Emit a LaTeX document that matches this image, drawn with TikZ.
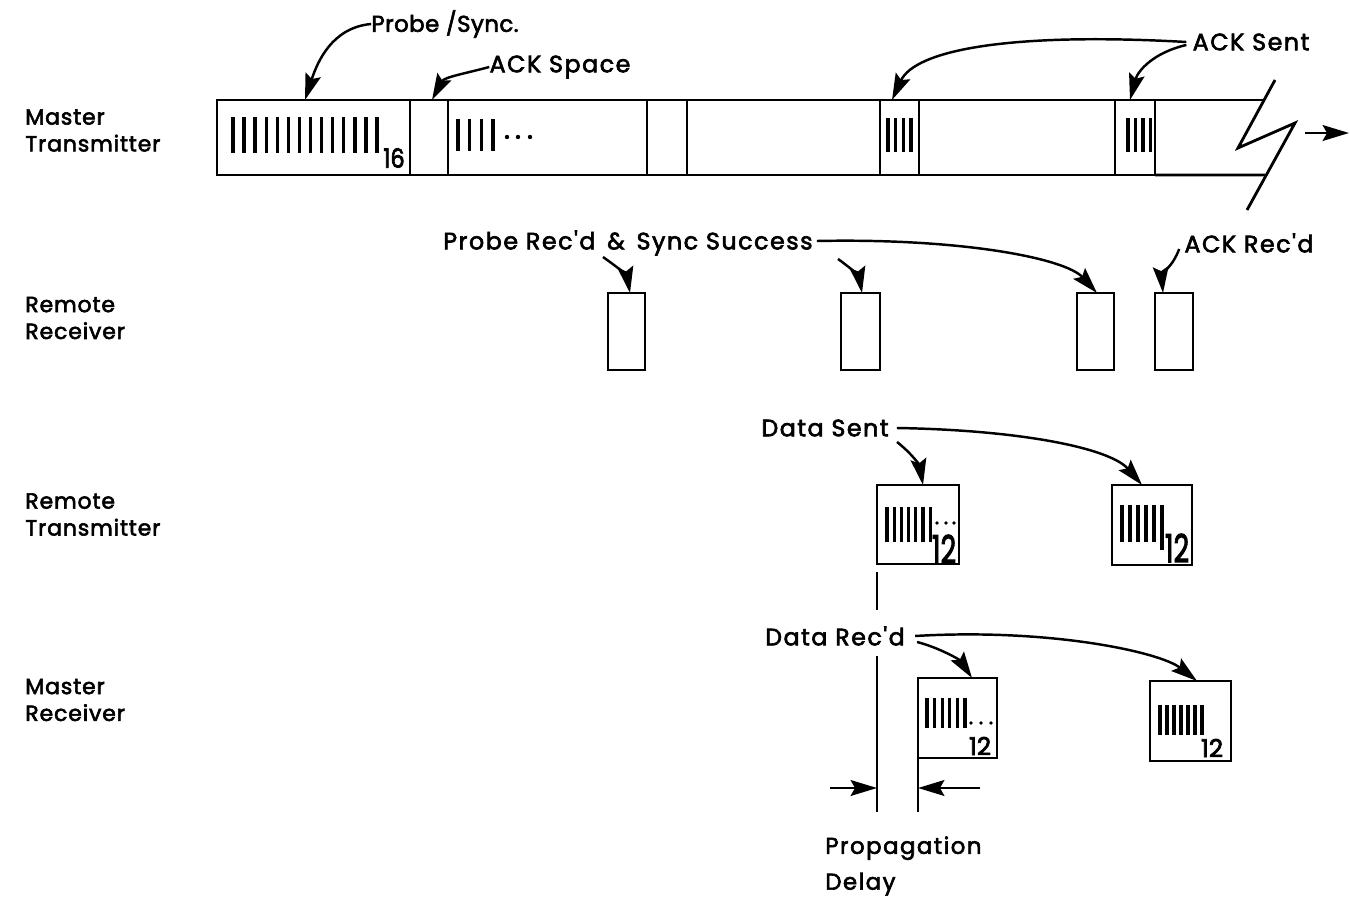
\documentclass[tikz,border=0pt]{standalone}
\usepackage{fontspec}
\usepackage{graphicx}
\setmainfont{Poppins}
\newfontfamily\lbf{Poppins}[FakeBold=2.6,LetterSpace=6.5]
\newfontfamily\sbf{Poppins}[FakeBold=2.6,LetterSpace=4]
\newfontfamily\pbf{Poppins}[FakeBold=2.6,LetterSpace=2]
\newfontfamily\dbf{Poppins}[FakeBold=3]
\newcommand{\sq}{{\char"0027}}
\usetikzlibrary{arrows.meta,calc}
\begin{document}
\begin{tikzpicture}[x=0.02cm,y=-0.02cm,
  bx/.style={draw, line width=1.6pt, inner sep=0pt, outer sep=0pt, anchor=north west},
  lbl/.style={font=\lbf\fontsize{13.5}{15}\selectfont, inner sep=0pt},
  side/.style={anchor=west, align=left, inner sep=0pt, font=\sbf\fontsize{12.5}{15.3}\selectfont},
  arr/.style={-{Stealth[length=15pt,width=9pt,inset=2.5pt]}, line width=1.4pt},
  bar/.style={line width=1.9pt},
  ln/.style={line width=1.6pt},
  dig/.style={inner sep=0pt}]
\useasboundingbox (0,0) rectangle (1350,899);

% ---- side labels
\node[side] (lmt) at (25,130.5) {Master\\Transmitter};
\node[side] (lrr) at (25,318) {Remote\\Receiver};
\node[side] (lrt) at (25,514.5) {Remote\\Transmitter};
\node[side] (lmr) at (25,700) {Master\\Receiver};

% ---- master transmitter bar
\node[bx, minimum width=193*0.02cm, minimum height=75*0.02cm] (seg1) at (217,100) {};
\node[bx, minimum width=38*0.02cm, minimum height=75*0.02cm] (acksp) at (410,100) {};
\node[bx, minimum width=199*0.02cm, minimum height=75*0.02cm] (seg2) at (448,100) {};
\node[bx, minimum width=40*0.02cm, minimum height=75*0.02cm] (seg3) at (647,100) {};
\node[bx, minimum width=193*0.02cm, minimum height=75*0.02cm] (seg4) at (687,100) {};
\node[bx, minimum width=39*0.02cm, minimum height=75*0.02cm] (ack1) at (880,100) {};
\node[bx, minimum width=196*0.02cm, minimum height=75*0.02cm] (seg5) at (919,100) {};
\node[bx, minimum width=40*0.02cm, minimum height=75*0.02cm] (ack2) at (1115,100) {};
\coordinate (tend) at (1263,100);
\coordinate (bend) at (1265,175);
\draw[ln] (ack2.north east) -- (tend);
\draw[ln] (ack2.south east) -- (bend);
% break symbol and continuation arrow
\coordinate (bk1) at (1275,80);
\coordinate (bk2) at (1238,148);
\coordinate (bk3) at (1295,123);
\coordinate (bk4) at (1247,210);
\draw[ln] (bk1) -- (bk2) -- (bk3) -- (bk4);
\coordinate (ca) at (1305,133);
\coordinate (cb) at (1349,133);
\draw[arr] (ca) -- (cb);

% stripes
\foreach \i in {0,...,13} \draw[bar] ({233+\i*11.08},117) -- ({233+\i*11.08},153);
\node[dig, font=\dbf\fontsize{15}{15}\selectfont] (n16) at (394,158) {\scalebox{0.85}[1]{16}};
\foreach \i in {0,...,3} \draw[bar] ({458+\i*11.7},119) -- ({458+\i*11.7},151);
\foreach \x in {507,518,530} \fill (\x,137) circle (2.2);
\foreach \i in {0,...,3} \draw[bar] ({888+\i*7.7},118) -- ({888+\i*7.7},152);
\foreach \i in {0,...,3} \draw[bar] ({1128+\i*7.5},118) -- ({1128+\i*7.5},152);

% top labels
\node[lbl, font=\pbf\fontsize{13}{15}\selectfont] (ps) at (445,24) {Probe /Sync.};
\node[lbl] (as) at (560,67) {ACK Space};
\node[lbl] (acks) at (1251,42) {ACK Sent};
\draw[arr] (ps.west) to[out=185,in=72] ($(seg1.north west)+(88,0)$);
\draw[arr] (as.west) to[out=195,in=62] ($(acksp.north west)+(22,0)$);
\draw[arr] ($(acks.west)+(-6,0)$) .. controls (1010,32) and (915,50) .. ($(ack1.north west)+(12,0)$);
\draw[arr] ($(acks.west)+(-6,3)$) .. controls (1155,52) and (1138,70) .. ($(ack2.north west)+(15,0)$);

% ---- remote receiver
\node[bx, minimum width=37*0.02cm, minimum height=77*0.02cm] (rr1) at (608,293) {};
\node[bx, minimum width=39*0.02cm, minimum height=77*0.02cm] (rr2) at (841,293) {};
\node[bx, minimum width=37*0.02cm, minimum height=77*0.02cm] (rr3) at (1077,293) {};
\node[bx, minimum width=38*0.02cm, minimum height=77*0.02cm] (rr4) at (1155,293) {};
\node[lbl] (prss) at (628,243) {Probe Rec\sq d \,\&\, Sync Success};
\node[lbl] (ackr) at (1249,243) {ACK Rec\sq d};
\coordinate (p1s) at (603,257);
\coordinate (p2s) at (838,259);
\draw[arr] (p1s) to[out=-35,in=100] ($(rr1.north west)+(22,0)$);
\draw[arr] (p2s) to[out=-35,in=100] ($(rr2.north west)+(21,0)$);
\draw[arr] ($(prss.east)+(4,-2)$) .. controls (960,238) and (1065,258) .. ($(rr3.north west)+(20,0)$);
\draw[arr] ($(ackr.west)+(-5,6)$) to[out=250,in=95] ($(rr4.north west)+(8,0)$);

% ---- remote transmitter
\node[bx, minimum width=82*0.02cm, minimum height=79*0.02cm] (rt1) at (877,485) {};
\node[bx, minimum width=80*0.02cm, minimum height=80*0.02cm] (rt2) at (1112,485) {};
\foreach \i in {0,...,6} \draw[bar] ({887+\i*7.2},507) -- ({887+\i*7.2},542);
\foreach \x in {937,946,954} \fill (\x,523) circle (1.9);
\node[dig, font=\dbf\fontsize{22}{22}\selectfont] (n12a) at (944,549) {\scalebox{0.7}[1]{12}};
\foreach \i in {0,...,5} \draw[bar] ({1122+\i*8},505) -- ({1122+\i*8},542);
\draw[bar] (1162,542) -- (1162,550);
\node[dig, font=\dbf\fontsize{22}{22}\selectfont] (n12b) at (1177,548) {\scalebox{0.7}[1]{12}};
\node[lbl] (ds) at (825,428) {Data Sent};
\coordinate (dss) at (897,442);
\draw[arr] ($(ds.east)+(8,0)$) .. controls (1020,430) and (1110,448) .. ($(rt2.north west)+(30,0)$);
\draw[arr] (dss) to[out=-38,in=100] ($(rt1.north west)+(46,0)$);

% ---- master receiver
\node[bx, minimum width=79*0.02cm, minimum height=80*0.02cm] (mr1) at (918,678) {};
\node[bx, minimum width=81*0.02cm, minimum height=80*0.02cm] (mr2) at (1150,681) {};
\foreach \i in {0,...,5} \draw[bar] ({927+\i*7.6},698) -- ({927+\i*7.6},728);
\foreach \x in {971,981,991} \fill (\x,723) circle (1.9);
\node[dig, font=\dbf\fontsize{14}{14}\selectfont] (n12c) at (980,746) {12};
\foreach \i in {0,...,6} \draw[bar] ({1160+\i*7},705) -- ({1160+\i*7},735);
\node[dig, font=\dbf\fontsize{14}{14}\selectfont] (n12d) at (1212,748) {12};
\node[lbl] (dr) at (835,636) {Data Rec\sq d};
\draw[arr] ($(dr.east)+(10,0)$) .. controls (1050,628) and (1160,652) .. ($(mr2.north west)+(47,0)$);
\draw[arr] ($(dr.east)+(12,6)$) .. controls (940,648) and (960,660) .. ($(mr1.north west)+(54,0)$);

% ---- propagation delay
\coordinate (v1a) at (rt1.south west);
\coordinate (v1b) at ($(rt1.south west)+(0,46)$);
\coordinate (v1c) at ($(rt1.south west)+(0,92)$);
\coordinate (v1d) at (877,812);
\coordinate (v2b) at (918,812);
\draw[ln] ($(v1a)+(0,8)$) -- (v1b);
\draw[ln] (v1c) -- (v1d);
\draw[ln] (mr1.south west) -- (v2b);
\coordinate (pl) at (830,788);
\coordinate (pr) at (980,788);
\draw[arr] (pl) -- (877,788);
\draw[arr] (pr) -- (918,788);
\node[anchor=west, align=left, inner sep=0pt, font=\lbf\fontsize{13}{20.4}\selectfont] (pd) at (825,866) {Propagation\\Delay};
\end{tikzpicture}
\end{document}
